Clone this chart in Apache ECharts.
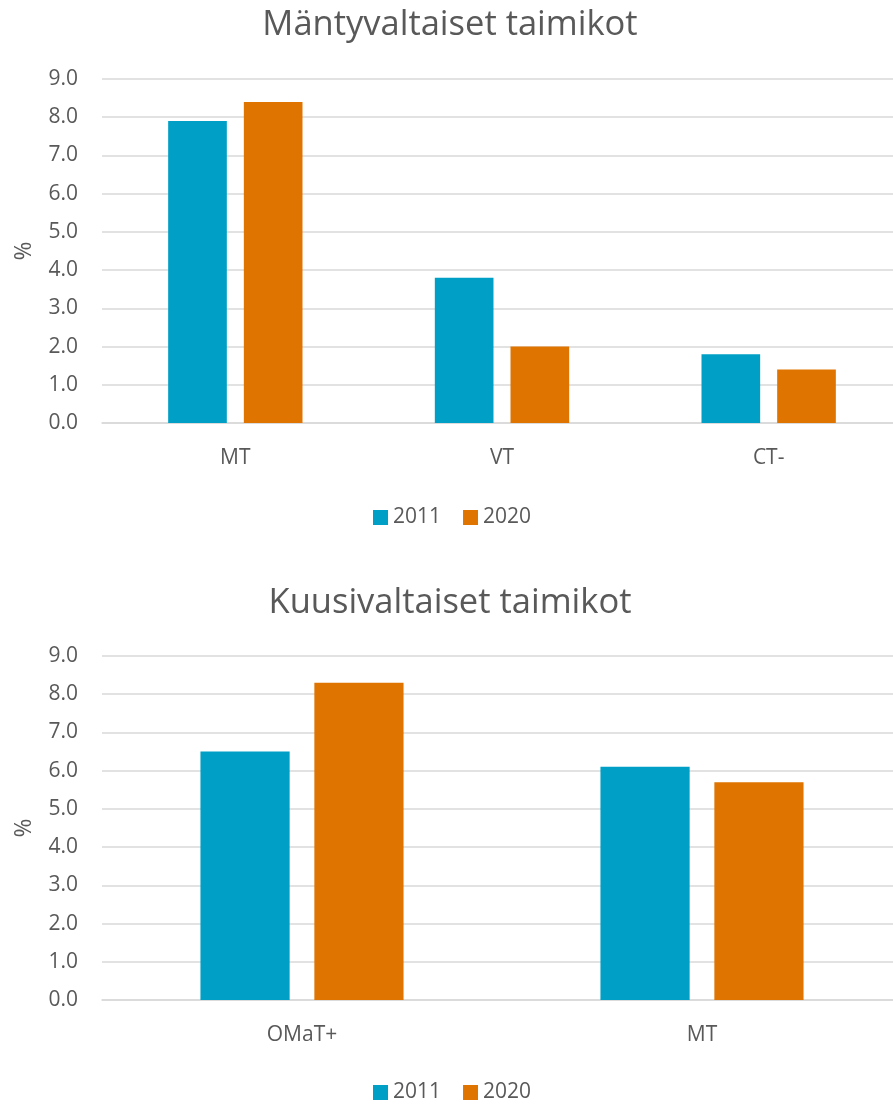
<!DOCTYPE html>
<html>
<head>
<meta charset="utf-8">
<script src="https://cdn.jsdelivr.net/npm/echarts@6/dist/echarts.min.js"></script>
<style>
html,body{margin:0;padding:0;background:#fff;overflow:hidden;}
#c{width:912px;height:1104px;}
</style>
</head>
<body>
<div id="c"></div>
<script>
const seriesNames = ['2011', '2020'];
const pineCategories = ['MT', 'VT', 'CT-'];
const pine2011 = [7.9, 3.8, 1.8];
const pine2020 = [8.4, 2.0, 1.4];
const spruceCategories = ['OMaT+', 'MT'];
const spruce2011 = [6.5, 6.1];
const spruce2020 = [8.3, 5.7];
const yMin = 0, yMax = 9, yStep = 1;
const titles = ['Mäntyvaltaiset taimikot', 'Kuusivaltaiset taimikot'];

const FONT = '"Open Sans", "Noto Sans", sans-serif';
const GREY = '#595959';
const colors = ['#00A0C6', '#DF7500'];

function yAxis(gridIndex) {
  return {
    type: 'value', gridIndex, min: yMin, max: yMax, interval: yStep,
    name: '%', nameLocation: 'middle', nameGap: 66,
    nameTextStyle: { color: GREY, fontFamily: FONT, fontSize: 23 },
    axisLine: { show: false }, axisTick: { show: false },
    axisLabel: { color: GREY, fontFamily: FONT, fontSize: 21, margin: 24,
      formatter: v => v.toFixed(1) },
    splitLine: { lineStyle: { color: '#D9D9D9', width: 1.5 } }
  };
}
function xAxis(gridIndex, data) {
  return {
    type: 'category', gridIndex, data,
    axisLine: { lineStyle: { color: '#D9D9D9', width: 1.5 } },
    axisTick: { show: false },
    axisLabel: { color: GREY, fontFamily: FONT, fontSize: 21, margin: 25 }
  };
}
function bar(name, data, idx, color, bw, gap) {
  return {
    type: 'bar', name, data, xAxisIndex: idx, yAxisIndex: idx,
    barWidth: bw, barGap: gap,
    itemStyle: { color }, silent: true
  };
}

const chart = echarts.init(document.getElementById('c'), null, { renderer: 'canvas' });
chart.setOption({
  animation: false,
  backgroundColor: '#fff',
  title: [
    { text: titles[0], left: 445, top: 3, textAlign: 'center',
      textStyle: { color: GREY, fontFamily: FONT, fontSize: 34.5, fontWeight: 'normal' } },
    { text: titles[1], left: 445, top: 581, textAlign: 'center',
      textStyle: { color: GREY, fontFamily: FONT, fontSize: 34.5, fontWeight: 'normal' } }
  ],
  legend: [
    { data: seriesNames, left: 368, top: 502, itemWidth: 15, itemHeight: 15, itemGap: 22,
      icon: 'rect', textStyle: { color: GREY, fontFamily: FONT, fontSize: 21 } },
    { data: seriesNames, left: 368, top: 1077, itemWidth: 15, itemHeight: 15, itemGap: 22,
      icon: 'rect', textStyle: { color: GREY, fontFamily: FONT, fontSize: 21 } }
  ],
  grid: [
    { left: 102, top: 79, width: 800, height: 344 },
    { left: 102, top: 656, width: 800, height: 344 }
  ],
  xAxis: [xAxis(0, pineCategories), xAxis(1, spruceCategories)],
  yAxis: [yAxis(0), yAxis(1)],
  series: [
    bar(seriesNames[0], pine2011, 0, colors[0], '22%', '29%'),
    bar(seriesNames[1], pine2020, 0, colors[1], '22%', '29%'),
    bar(seriesNames[0], spruce2011, 1, colors[0], '22.3%', '27.7%'),
    bar(seriesNames[1], spruce2020, 1, colors[1], '22.3%', '27.7%')
  ]
});
</script>
</body>
</html>
